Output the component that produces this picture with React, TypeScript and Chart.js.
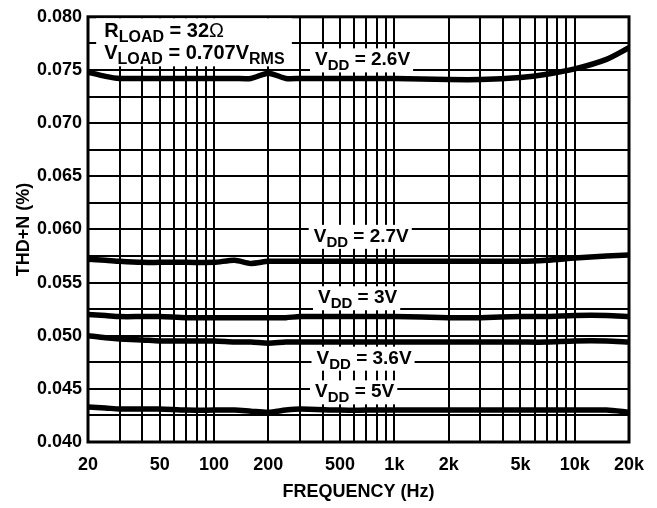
import React, { useEffect, useRef } from 'react';
import { Chart, registerables } from 'chart.js';

Chart.register(...registerables);

// ---- data ----
const frequencies = [20, 25, 30, 40, 50, 70, 100, 130, 160, 200, 250, 300, 500, 700, 1000, 2000, 3000, 5000, 7000, 10000, 15000, 20000];
const vdd26 = [0.0748, 0.0744, 0.0742, 0.0742, 0.0742, 0.0742, 0.0742, 0.0742, 0.0742, 0.0747, 0.0742, 0.0742, 0.0742, 0.0742, 0.0742, 0.0741, 0.0741, 0.0743, 0.0746, 0.0751, 0.0760, 0.0771];
const vdd27 = [0.0572, 0.0571, 0.0570, 0.0569, 0.0569, 0.0569, 0.0569, 0.0571, 0.0568, 0.0570, 0.0570, 0.0570, 0.0570, 0.0570, 0.0570, 0.0570, 0.0570, 0.0570, 0.0571, 0.0573, 0.0575, 0.0576];
const vdd30 = [0.0520, 0.0519, 0.0518, 0.0518, 0.0518, 0.0517, 0.0517, 0.0517, 0.0517, 0.0517, 0.0517, 0.0518, 0.0518, 0.0518, 0.0518, 0.0517, 0.0517, 0.0518, 0.0518, 0.0519, 0.0519, 0.0518];
const vdd36 = [0.0500, 0.0498, 0.0497, 0.0496, 0.0495, 0.0495, 0.0495, 0.0494, 0.0494, 0.0493, 0.0494, 0.0494, 0.0494, 0.0494, 0.0494, 0.0494, 0.0494, 0.0494, 0.0494, 0.0495, 0.0495, 0.0494];
const vdd50 = [0.0433, 0.0432, 0.0431, 0.0431, 0.0431, 0.0430, 0.0430, 0.0430, 0.0429, 0.0428, 0.0430, 0.0431, 0.0430, 0.0430, 0.0430, 0.0430, 0.0430, 0.0430, 0.0430, 0.0430, 0.0430, 0.0428];
const seriesValues = [vdd26, vdd27, vdd30, vdd36, vdd50];

const xGridValues = [20, 30, 40, 50, 60, 70, 80, 90, 100, 200, 300, 400, 500, 600, 700, 800, 900, 1000, 2000, 3000, 4000, 5000, 6000, 7000, 8000, 9000, 10000, 20000];
const xLabelValues = [20, 50, 100, 200, 500, 1000, 2000, 5000, 10000, 20000];
const xLabelTexts = ['20', '50', '100', '200', '500', '1k', '2k', '5k', '10k', '20k'];
const yMin = 0.04;
const yMax = 0.08;
const yGridStep = 0.0025;
const yLabelStep = 0.005;

// annotations
const vddNoteFreqs = [363, 357, 377, 370, 363];
const vddNoteValues = [0.07543, 0.05883, 0.05305, 0.04737, 0.0442];
const vddNoteTexts = ['2.6V', '2.7V', '3V', '3.6V', '5V'];
const loadNoteFreq = 24.6;
const loadNoteValues = [0.07814, 0.07605];
const loadBoxFreqs = [22.2, 270];
const loadBoxBottomValue = 0.07534;

const FONT = '"Liberation Sans", Arial, Helvetica, sans-serif';

type Part = [string, number];

function fontFor(kind: number, main: number, sub: number) {
  if (kind === 1) return `bold ${sub}px ${FONT}`;
  if (kind === 2) return `${main}px ${FONT}`;
  return `bold ${main}px ${FONT}`;
}

function measureRich(ctx: CanvasRenderingContext2D, parts: Part[], main: number, sub: number) {
  let w = 0;
  for (const [t, k] of parts) {
    ctx.font = fontFor(k, main, sub);
    w += ctx.measureText(t).width;
  }
  return w;
}

function drawRich(ctx: CanvasRenderingContext2D, parts: Part[], x: number, baseline: number, main: number, sub: number) {
  let cx = x;
  ctx.textAlign = 'left';
  ctx.textBaseline = 'alphabetic';
  ctx.fillStyle = '#000';
  for (const [t, k] of parts) {
    ctx.font = fontFor(k, main, sub);
    ctx.fillText(t, cx, baseline + (k === 1 ? 5 : 0));
    cx += ctx.measureText(t).width;
  }
}

const notesPlugin = {
  id: 'notes',
  beforeDatasetsDraw(chart: any) {
    const { ctx, chartArea } = chart;
    const x = chart.scales.x;
    const y = chart.scales.y;
    ctx.save();
    // frame
    ctx.strokeStyle = '#000';
    ctx.lineWidth = 3;
    ctx.strokeRect(chartArea.left, chartArea.top, chartArea.right - chartArea.left, chartArea.bottom - chartArea.top);

    // load box
    const lx0 = x.getPixelForValue(loadBoxFreqs[0]);
    const lx1 = x.getPixelForValue(loadBoxFreqs[1]);
    const ly1 = y.getPixelForValue(loadBoxBottomValue);
    ctx.fillStyle = '#fff';
    ctx.fillRect(lx0, chartArea.top + 1.5, lx1 - lx0, ly1 - chartArea.top - 1.5);
    const lx = x.getPixelForValue(loadNoteFreq);
    drawRich(ctx, [['R', 0], ['LOAD', 1], [' = 32', 0], ['Ω', 2]], lx, y.getPixelForValue(loadNoteValues[0]), 20, 16);
    drawRich(ctx, [['V', 0], ['LOAD', 1], [' = 0.707V', 0], ['RMS', 1]], lx, y.getPixelForValue(loadNoteValues[1]), 20, 16);

    // VDD labels
    vddNoteTexts.forEach((txt, i) => {
      const parts: Part[] = [['V', 0], ['DD', 1], [' = ' + txt, 0]];
      const px = x.getPixelForValue(vddNoteFreqs[i]);
      const py = y.getPixelForValue(vddNoteValues[i]);
      const w = measureRich(ctx, parts, 19, 15);
      ctx.fillStyle = '#fff';
      ctx.fillRect(px - 5, py - 17, w + 8, 24);
      drawRich(ctx, parts, px, py, 19, 15);
    });
    ctx.restore();
  },
};

export default function App() {
  const canvasRef = useRef<HTMLCanvasElement | null>(null);

  useEffect(() => {
    document.body.style.margin = '0';
    const canvas = canvasRef.current;
    if (!canvas) return;
    const chart = new Chart(canvas, {
      type: 'line',
      data: {
        datasets: seriesValues.map((vals) => ({
          data: frequencies.map((f, i) => ({ x: f, y: vals[i] })),
          borderColor: '#000',
          backgroundColor: '#000',
          borderWidth: 5.5,
          pointRadius: 0,
          tension: 0.25,
          fill: false,
        })),
      },
      options: {
        responsive: false,
        animation: false,
        devicePixelRatio: 1,
        layout: { padding: { left: 0, right: 28, top: 13, bottom: 0 } },
        plugins: { legend: { display: false }, tooltip: { enabled: false } },
        scales: {
          x: {
            type: 'logarithmic',
            min: 20,
            max: 20000,
            afterBuildTicks: (s: any) => {
              s.ticks = xGridValues.map((v) => ({ value: v }));
            },
            afterFit: (s: any) => {
              s.height = 66;
            },
            grid: { color: '#000', lineWidth: 2, drawTicks: false },
            border: { display: false },
            ticks: {
              autoSkip: false,
              maxRotation: 0,
              padding: 12,
              color: '#000',
              font: { family: FONT, size: 18, weight: 'bold' },
              callback: (v: any) => {
                const idx = xLabelValues.findIndex((lv) => Math.abs(lv - Number(v)) < 1e-6);
                return idx >= 0 ? xLabelTexts[idx] : '';
              },
            },
            title: {
              display: true,
              text: 'FREQUENCY (Hz)',
              color: '#000',
              font: { family: FONT, size: 18, weight: 'bold' },
              padding: { top: 0, bottom: 5 },
            },
          },
          y: {
            min: yMin,
            max: yMax,
            afterFit: (s: any) => {
              s.width = 88;
            },
            grid: { color: '#000', lineWidth: 2, drawTicks: false },
            border: { display: false },
            ticks: {
              stepSize: yGridStep,
              autoSkip: false,
              padding: 6,
              color: '#000',
              font: { family: FONT, size: 18, weight: 'bold' },
              callback: (v: any) => {
                const k = Math.round(Number(v) / yGridStep);
                const isLabel = Math.abs(Number(v) / yLabelStep - Math.round(Number(v) / yLabelStep)) < 1e-6;
                return isLabel ? (k * yGridStep).toFixed(3) : '';
              },
            },
            title: {
              display: true,
              text: 'THD+N (%)',
              color: '#000',
              font: { family: FONT, size: 18, weight: 'bold' },
              padding: { top: 13, bottom: 0 },
            },
          },
        },
      },
      plugins: [notesPlugin],
    } as any);
    return () => chart.destroy();
  }, []);

  return (
    <div style={{ width: 657, height: 508 }}>
      <canvas ref={canvasRef} width={657} height={508} style={{ display: 'block' }} />
    </div>
  );
}
